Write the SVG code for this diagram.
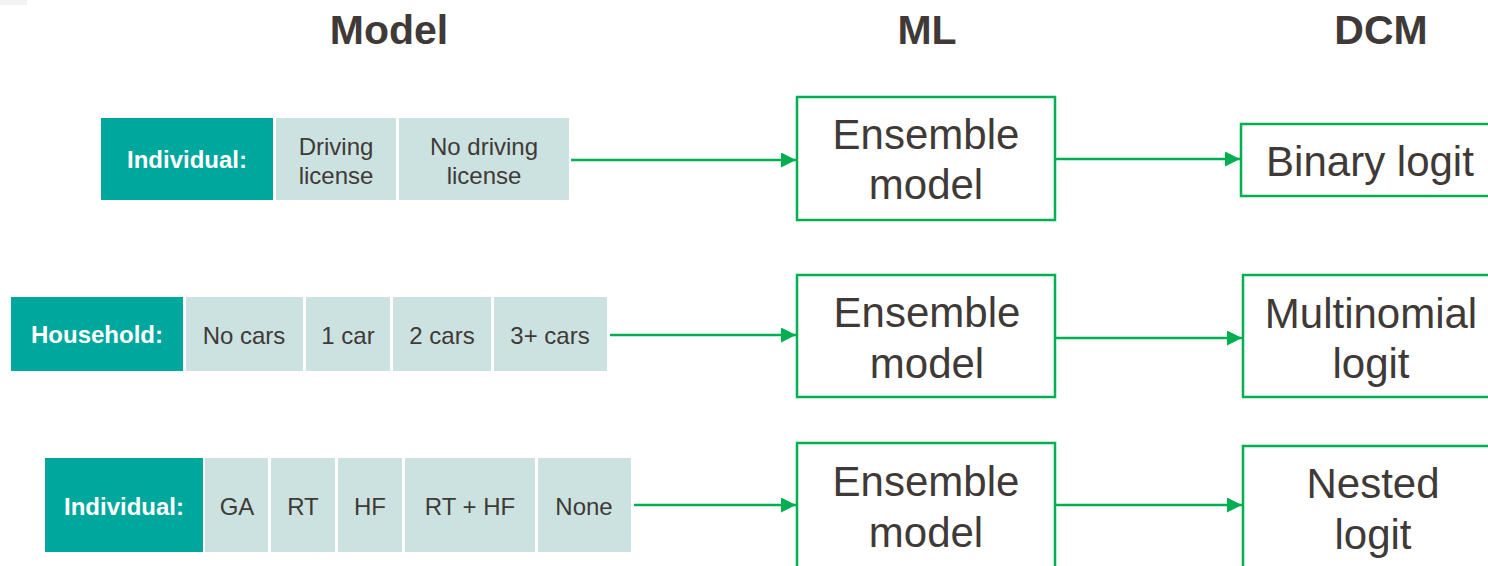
<svg xmlns="http://www.w3.org/2000/svg" width="1488" height="566" viewBox="0 0 1488 566">
<style>
.h{font-family:"Liberation Sans",Arial,sans-serif;font-weight:bold;font-size:41px;fill:#3f3a37;text-anchor:middle}
.lab{fill:#00a79d}
.labt{font-family:"Liberation Sans",Arial,sans-serif;font-weight:bold;font-size:24px;fill:#ffffff;text-anchor:middle}
.cell{fill:#cce2e0}
.ct{font-family:"Liberation Sans",Arial,sans-serif;font-size:24px;fill:#3f3a37;text-anchor:middle}
.box{fill:#ffffff;stroke:#00b050;stroke-width:2.5}
.bt{font-family:"Liberation Sans",Arial,sans-serif;font-size:42px;fill:#3f3a37;text-anchor:middle}
.conn{stroke:#00b050;stroke-width:2.5;fill:none}
</style>
<defs>
<marker id="arr" viewBox="0 0 10 10" refX="10" refY="5" markerWidth="6" markerHeight="6" markerUnits="strokeWidth" orient="auto">
<path d="M0,0 L10,5 L0,10 z" fill="#00b050"/>
</marker>
</defs>
<rect x="0" y="0" width="27" height="5" fill="#f2f2f2"/>
<g id="headings">
<text class="h" x="389" y="44">Model</text>
<text class="h" x="927" y="44">ML</text>
<text class="h" x="1381" y="44">DCM</text>
</g>
<g id="row1">
<rect class="lab" x="101" y="118" width="172" height="82"/>
<text class="labt" x="187" y="168">Individual:</text>
<rect class="cell" x="276" y="118" width="120" height="82"/>
<text class="ct" x="336" y="155">Driving</text>
<text class="ct" x="336" y="184">license</text>
<rect class="cell" x="399" y="118" width="170" height="82"/>
<text class="ct" x="484" y="155">No driving</text>
<text class="ct" x="484" y="184">license</text>
</g>
<g id="row2">
<rect class="lab" x="11" y="297" width="172" height="74"/>
<text class="labt" x="97" y="343">Household:</text>
<rect class="cell" x="186" y="297" width="117" height="74"/>
<text class="ct" x="244" y="344">No cars</text>
<rect class="cell" x="306" y="297" width="84" height="74"/>
<text class="ct" x="348" y="344">1 car</text>
<rect class="cell" x="393" y="297" width="98" height="74"/>
<text class="ct" x="442" y="344">2 cars</text>
<rect class="cell" x="494" y="297" width="113" height="74"/>
<text class="ct" x="550" y="344">3+ cars</text>
</g>
<g id="row3">
<rect class="lab" x="45" y="458" width="158" height="94"/>
<text class="labt" x="124" y="515">Individual:</text>
<rect class="cell" x="205" y="458" width="63" height="94"/>
<text class="ct" x="237" y="515">GA</text>
<rect class="cell" x="271" y="458" width="64" height="94"/>
<text class="ct" x="303" y="515">RT</text>
<rect class="cell" x="338" y="458" width="64" height="94"/>
<text class="ct" x="370" y="515">HF</text>
<rect class="cell" x="405" y="458" width="130" height="94"/>
<text class="ct" x="470" y="515">RT + HF</text>
<rect class="cell" x="538" y="458" width="93" height="94"/>
<text class="ct" x="584" y="515">None</text>
</g>
<g id="ml1">
<rect class="box" x="797" y="97" width="258" height="123"/>
<text class="bt" x="926" y="149">Ensemble</text>
<text class="bt" x="926" y="199">model</text>
</g>
<g id="ml2">
<rect class="box" x="797" y="275" width="258" height="122"/>
<text class="bt" x="927" y="327">Ensemble</text>
<text class="bt" x="927" y="378">model</text>
</g>
<g id="ml3">
<rect class="box" x="797" y="443" width="258" height="130"/>
<text class="bt" x="926" y="496">Ensemble</text>
<text class="bt" x="926" y="547">model</text>
</g>
<g id="dcm1">
<rect class="box" x="1241" y="124" width="260" height="72"/>
<text class="bt" x="1370" y="176">Binary logit</text>
</g>
<g id="dcm2">
<rect class="box" x="1243" y="275" width="260" height="122"/>
<text class="bt" x="1371" y="328">Multinomial</text>
<text class="bt" x="1371" y="378">logit</text>
</g>
<g id="dcm3">
<rect class="box" x="1243" y="446" width="260" height="130"/>
<text class="bt" x="1373" y="498">Nested</text>
<text class="bt" x="1373" y="549">logit</text>
</g>
<g id="connectors">
<line class="conn" x1="571" y1="160" x2="796" y2="160" marker-end="url(#arr)"/>
<line class="conn" x1="1056" y1="159" x2="1240" y2="159" marker-end="url(#arr)"/>
<line class="conn" x1="610" y1="335" x2="796" y2="335" marker-end="url(#arr)"/>
<line class="conn" x1="1056" y1="338" x2="1242" y2="338" marker-end="url(#arr)"/>
<line class="conn" x1="634" y1="505" x2="796" y2="505" marker-end="url(#arr)"/>
<line class="conn" x1="1056" y1="505" x2="1242" y2="505" marker-end="url(#arr)"/>
</g>
</svg>
